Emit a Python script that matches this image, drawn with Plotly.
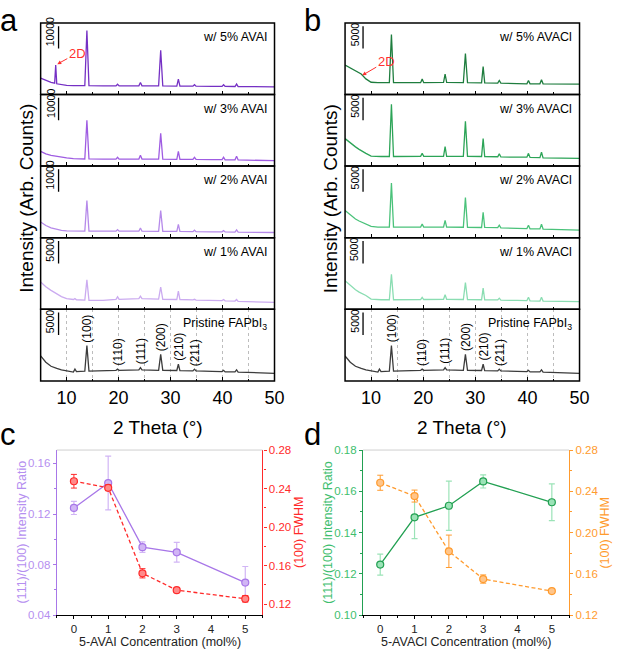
import plotly.graph_objects as go

# ---------------- data ----------------
two_theta = [5, 6, 7, 7.7, 7.9, 8.1, 9, 10, 11.3, 11.6, 11.9, 13.5, 13.9, 14.3, 17,
             19.5, 19.8, 20.1, 23.9, 24.2, 24.5, 27.7, 28.1, 28.5, 31.2, 31.5, 31.8,
             34.3, 34.6, 34.9, 38, 39.9, 40.2, 40.5, 42.4, 42.7, 43.0, 46, 50]

avai_5 = [7300, 6200, 5400, 5100, 13200, 4800, 4400, 4100, 4000, 4000, 3950, 3950, 28600, 3950, 3900,
          3900, 4600, 3900, 3900, 5400, 3900, 3850, 19800, 3850, 3800, 6900, 3800,
          3750, 4400, 3750, 3650, 3650, 4400, 3650, 3600, 4700, 3600, 3500, 3400]
avai_3 = [6600, 5500, 4850, 4500, 4400, 4300, 3900, 3650, 3350, 3350, 3300, 3200, 20500, 3200, 3150,
          3150, 3950, 3150, 3150, 4850, 3150, 3100, 14650, 3100, 3050, 6600, 3050,
          3000, 3950, 3000, 2900, 2900, 3950, 2850, 2800, 4400, 2750, 2650, 2450]
avai_2 = [7050, 5500, 4400, 3950, 3850, 3750, 3300, 3100, 3000, 3000, 3000, 3000, 16600, 3000, 2950,
          2950, 3650, 2950, 2950, 4400, 2950, 2900, 12200, 2900, 2850, 6000, 2850,
          2750, 3400, 2750, 2650, 2650, 3200, 2600, 2550, 3500, 2500, 2400, 2350]
avai_1 = [6100, 5050, 4250, 3750, 3650, 3500, 2850, 2400, 2200, 2400, 2150, 2050, 6600, 2000, 2000,
          2250, 2800, 2250, 2400, 2950, 2400, 2300, 5000, 2250, 2200, 4100, 2200,
          2100, 2250, 2050, 2000, 1950, 2200, 1900, 1850, 2200, 1800, 1700, 1550]
pristine = [5600, 4200, 3300, 2950, 2850, 2800, 2500, 2250, 2000, 2650, 2100, 2200, 7900, 2200, 2250,
            2400, 2650, 2400, 2500, 3000, 2500, 2400, 5950, 2400, 2350, 3750, 2300,
            2250, 2650, 2250, 2150, 2100, 2400, 2050, 2050, 2500, 2000, 1850, 1700]
avacl_5 = [6600, 5950, 5300, 4850, 4750, 4600, 3500, 2750, 2650, 2650, 2650, 2650, 13400, 2650, 2650,
           2650, 3450, 2650, 2700, 4550, 2700, 2650, 9150, 2650, 2600, 6250, 2600,
           2550, 3150, 2550, 2450, 2400, 3150, 2400, 2400, 3300, 2400, 2350, 2350]
avacl_3 = [6150, 5150, 4300, 3750, 3600, 3450, 2850, 2250, 2150, 2150, 2150, 2150, 13850, 2150, 2150,
           2200, 2850, 2200, 2200, 4350, 2200, 2200, 10000, 2200, 2150, 6150, 2150,
           2100, 2750, 2050, 2000, 2000, 2850, 1950, 1900, 3100, 1850, 1800, 1750]
avacl_2 = [6100, 5050, 4200, 3750, 3650, 3500, 3150, 2550, 2400, 2400, 2400, 2400, 12200, 2400, 2400,
           2400, 3050, 2400, 2400, 3900, 2400, 2350, 9000, 2350, 2300, 5700, 2300,
           2250, 2800, 2200, 2100, 2050, 2800, 2000, 2000, 3050, 1950, 1850, 1700]
avacl_1 = [6400, 5300, 4400, 3850, 3750, 3600, 3100, 2300, 2150, 2150, 2150, 2150, 7850, 2150, 2150,
           2200, 2700, 2200, 2250, 3250, 2250, 2200, 6000, 2200, 2150, 4750, 2150,
           2100, 2500, 2050, 2000, 1950, 2700, 1900, 1850, 2700, 1850, 1800, 1750]

labels_a = ["w/ 5% AVAI", "w/ 3% AVAI", "w/ 2% AVAI", "w/ 1% AVAI", "Pristine FAPbI<sub>3</sub>"]
labels_b = ["w/ 5% AVACl", "w/ 3% AVACl", "w/ 2% AVACl", "w/ 1% AVACl", "Pristine FAPbI<sub>3</sub>"]
scale_a = [10000, 10000, 10000, 5000, 5000]
scale_b = [5000, 5000, 5000, 5000, 5000]

hkl_labels = ["(100)", "(110)", "(111)", "(200)", "(210)", "(211)"]
hkl_pos = [13.9, 19.8, 24.2, 28.1, 31.5, 34.6]
peak_2d = 7.9

conc = [0, 1, 2, 3, 5]
avai_ratio = [0.1248, 0.1445, 0.0938, 0.0897, 0.0658]
avai_ratio_err = [0.0052, 0.0213, 0.0041, 0.0078, 0.0127]
avai_fwhm = [0.2476, 0.2408, 0.1520, 0.1345, 0.1255]
avai_fwhm_err = [0.0071, 0.0030, 0.0048, 0.0020, 0.0034]
avacl_ratio = [0.1245, 0.1474, 0.1530, 0.1648, 0.1547]
avacl_ratio_err = [0.0051, 0.0103, 0.0119, 0.0032, 0.0089]
avacl_fwhm = [0.2483, 0.2354, 0.1819, 0.1550, 0.1433]
avacl_fwhm_err = [0.0073, 0.0058, 0.0157, 0.0040, 0.0010]

# ---------------- styling / layout ----------------
W, H = 622, 657
FONT = "Arial, Liberation Sans, sans-serif"


def xd(l, r):
    return [l / W, r / W]


def yd(t, b):
    return [1 - b / H, 1 - t / H]


def sid(n):
    return "" if n == 1 else str(n)


rows = [17.3, 90.2, 163.1, 236.1, 309.0, 382.0]
LW = 1.5
cols = [(41.3, 279.0), (350.7, 589.0)]
colors_a = ["#7530C4", "#9F5CE2", "#B68AEA", "#CBABF0", "#3C3C3C"]
colors_b = ["#1E7D3E", "#2CA457", "#4AC27A", "#8ADDB2", "#3C3C3C"]
series_a = [avai_5, avai_3, avai_2, avai_1, pristine]
series_b = [avacl_5, avacl_3, avacl_2, avacl_1, pristine]

fig = go.Figure()
layout = dict(width=W, height=H, margin=dict(l=0, r=0, t=0, b=0),
              paper_bgcolor="white", plot_bgcolor="white",
              font=dict(family=FONT, color="black"), showlegend=False)
annotations = []
shapes = []

for c, (xl, xr) in enumerate(cols):
    labels = labels_a if c == 0 else labels_b
    scales = scale_a if c == 0 else scale_b
    colors = colors_a if c == 0 else colors_b
    series = series_a if c == 0 else series_b
    for i in range(5):
        n = c * 5 + i + 1
        s = sid(n)
        yr = scales[i] * 3.2
        fig.add_trace(go.Scatter(x=two_theta, y=series[i], mode="lines",
                                 line=dict(color=colors[i], width=1.3),
                                 xaxis="x" + s, yaxis="y" + s, hoverinfo="skip"))
        bottom = (i == 4)
        layout["xaxis" + s] = dict(
            domain=xd(xl, xr), anchor="y" + s, range=[5, 50],
            showline=False,
            ticks="inside", ticklen=4, tickwidth=1.2, tickcolor="black",
            tick0=0, dtick=10, showticklabels=bottom,
            tickfont=dict(size=18, family=FONT, color="black"),
            ticklabelstandoff=4,
            showgrid=bottom, gridcolor="#bdbdbd", griddash="dot", gridwidth=1,
            minor=dict(ticks="inside", ticklen=2.5, tickwidth=1, tickcolor="black",
                       tick0=0, dtick=5, showgrid=bottom, gridcolor="#bdbdbd",
                       griddash="dot", gridwidth=1),
            zeroline=False, fixedrange=True)
        layout["yaxis" + s] = dict(
            domain=yd(rows[i], rows[i + 1]), anchor="x" + s, range=[0, yr],
            showline=False, ticks="", showticklabels=False, showgrid=False, zeroline=False)
        shapes.append(dict(type="rect", xref="x" + s + " domain", yref="y" + s + " domain",
                           x0=0, x1=1, y0=0, y1=1, line=dict(color="black", width=LW),
                           fillcolor="rgba(0,0,0,0)", layer="above"))
        annotations.append(dict(text=labels[i], xref="x" + s + " domain", yref="y" + s + " domain",
                                x=0.978, y=0.80, xanchor="right", yanchor="middle",
                                showarrow=False, font=dict(size=12.5, color="black")))
        y1 = yr * 0.955
        y0 = y1 - scales[i]
        shapes.append(dict(type="line", xref="x" + s, yref="y" + s, x0=8.45, x1=8.45,
                           y0=y0, y1=y1, line=dict(color="black", width=1.3)))
        annotations.append(dict(text=str(scales[i]), xref="x" + s, yref="y" + s,
                                x=6.85, y=y0, textangle=-90, xanchor="center", yanchor="bottom",
                                showarrow=False, font=dict(size=10.5, color="black")))
        if i == 0:
            if c == 0:
                annotations.append(dict(text="2D", xref="x" + s, yref="y" + s,
                                        x=peak_2d + 0.3, y=series[i][two_theta.index(peak_2d)] + 400,
                                        ax=20, ay=-11, showarrow=True, arrowhead=2, arrowsize=0.8,
                                        arrowwidth=1, arrowcolor="#FF3030",
                                        font=dict(size=13, color="#FF3030")))
            else:
                annotations.append(dict(text="2D", xref="x" + s, yref="y" + s,
                                        x=8.3, y=series[i][two_theta.index(8.1)] - 300,
                                        ax=24, ay=-14, showarrow=True, arrowhead=2, arrowsize=0.8,
                                        arrowwidth=1, arrowcolor="#FF3030",
                                        font=dict(size=13, color="#FF3030")))
        if bottom:
            for lab, pos in zip(hkl_labels, hkl_pos):
                annotations.append(dict(text=lab, xref="x" + s, yref="y" + s,
                                        x=pos + 0.1, y=series[i][two_theta.index(pos)] + 300,
                                        textangle=-90, xanchor="center", yanchor="bottom",
                                        showarrow=False, font=dict(size=12, color="black")))
    xc = (xl + xr) / 2
    annotations.append(dict(text="2 Theta (°)", xref="paper", yref="paper",
                            x=xc / W, y=1 - 429 / H, xanchor="center", yanchor="middle",
                            showarrow=False, font=dict(size=19, color="black")))
    annotations.append(dict(text="Intensity (Arb. Counts)", xref="paper", yref="paper",
                            x=(xl - 14.5) / W, y=1 - 196 / H, textangle=-90,
                            xanchor="center", yanchor="middle",
                            showarrow=False, font=dict(size=19, color="black")))

# ---------------- panels c and d ----------------
bot = [(57.7, 266.7, "#A877E8", "#B58FF0", "#D1B5F5", "#FF2A2A", "#FF8A8A",
        avai_ratio, avai_ratio_err, avai_fwhm, avai_fwhm_err, [0.04, 0.1706], 0.04, [0.1085, 0.28],
        "5-AVAI Concentration (mol%)", 11, 12, 11),
       (369.0, 578.3, "#22A052", "#3EBE6E", "#9BE3B7", "#FF9B2E", "#FFC58A",
        avacl_ratio, avacl_ratio_err, avacl_fwhm, avacl_fwhm_err, [0.10, 0.18], 0.02, [0.12, 0.28],
        "5-AVACl Concentration (mol%)", 12, 13, 14)]

for (xl, xr, lc, lt, lfill, rc, rfill, ratio, ratio_err, fwhm, fwhm_err,
     lrange, ldt, rrange, xtitle, xn, yl, yrn) in bot:
    xs, ys_l, ys_r = str(xn), str(yl), str(yrn)
    fig.add_trace(go.Scatter(x=conc, y=fwhm, mode="lines+markers",
                             line=dict(color=rc, width=1.3, dash="4px,2.5px"),
                             marker=dict(size=7, color=rfill, line=dict(color=rc, width=1.2)),
                             error_y=dict(type="data", array=fwhm_err, color=rc, thickness=1, width=3),
                             xaxis="x" + xs, yaxis="y" + ys_r, hoverinfo="skip"))
    fig.add_trace(go.Scatter(x=conc, y=ratio, mode="lines+markers",
                             line=dict(color=lc, width=1.3),
                             marker=dict(size=7, color=lfill, line=dict(color=lc, width=1.2)),
                             error_y=dict(type="data", array=ratio_err, color=lfill, thickness=1.2, width=3),
                             xaxis="x" + xs, yaxis="y" + ys_l, hoverinfo="skip"))
    layout["xaxis" + xs] = dict(
        domain=xd(xl, xr), anchor="y" + ys_l, range=[-0.5, 5.5], tick0=0, dtick=1,
        showline=True, linecolor="black", linewidth=1.3, ticks="outside", ticklen=3,
        tickcolor="black", tickfont=dict(size=11.5, color="#222"), ticklabelstandoff=0,
        minor=dict(ticks="outside", ticklen=2, dtick=0.5, tick0=0, tickcolor="black"),
        showgrid=False, zeroline=False)
    layout["yaxis" + ys_l] = dict(
        domain=yd(452.3, 620.5), anchor="x" + xs, range=lrange, tick0=0, dtick=ldt,
        tickformat=".2f", showline=True, linecolor=lc, linewidth=1.3, ticks="outside",
        ticklen=3, tickcolor=lc, tickfont=dict(size=11.5, color=lt), ticklabelstandoff=0,
        minor=dict(ticks="outside", ticklen=2, dtick=ldt / 2, tick0=0, tickcolor=lc),
        showgrid=False, zeroline=False)
    layout["yaxis" + ys_r] = dict(
        overlaying="y" + ys_l, side="right", anchor="x" + xs, range=rrange, tick0=0, dtick=0.04,
        tickformat=".2f", showline=True, linecolor=rc, linewidth=1.3, ticks="outside",
        ticklen=3, tickcolor=rc, tickfont=dict(size=11.5, color=rc), ticklabelstandoff=0,
        minor=dict(ticks="outside", ticklen=2, dtick=0.02, tick0=0, tickcolor=rc),
        showgrid=False, zeroline=False)
    shapes.append(dict(type="line", xref="x" + xs + " domain", yref="y" + ys_l + " domain",
                       x0=0, x1=1, y0=1, y1=1, line=dict(color="#cfcfcf", width=1)))
    annotations.append(dict(text="(111)/(100) Intensity Ratio", xref="paper", yref="paper",
                            x=(xl - 35) / W, y=1 - 536 / H, textangle=-90, showarrow=False,
                            xanchor="center", yanchor="middle", font=dict(size=12.5, color=lt)))
    annotations.append(dict(text="(100) FWHM", xref="paper", yref="paper",
                            x=(xr + 37) / W, y=1 - 536 / H, textangle=-90, showarrow=False,
                            xanchor="center", yanchor="middle", font=dict(size=12.5, color=rc)))
    annotations.append(dict(text=xtitle, xref="paper", yref="paper",
                            x=(xl + xr) / 2 / W, y=0, showarrow=False,
                            xanchor="center", yanchor="bottom", font=dict(size=12.5, color="#222")))

for letter, px, py in [("a", 9, 14.6), ("b", 317.5, 14.6), ("c", 8, 436.6), ("d", 317.5, 436.4)]:
    annotations.append(dict(text=letter, xref="paper", yref="paper", x=px / W, y=1 - py / H,
                            xanchor="center", yanchor="middle", showarrow=False,
                            font=dict(size=31, color="black")))

layout["annotations"] = annotations
layout["shapes"] = shapes
fig.update_layout(**layout)
fig.write_html("out.html")
